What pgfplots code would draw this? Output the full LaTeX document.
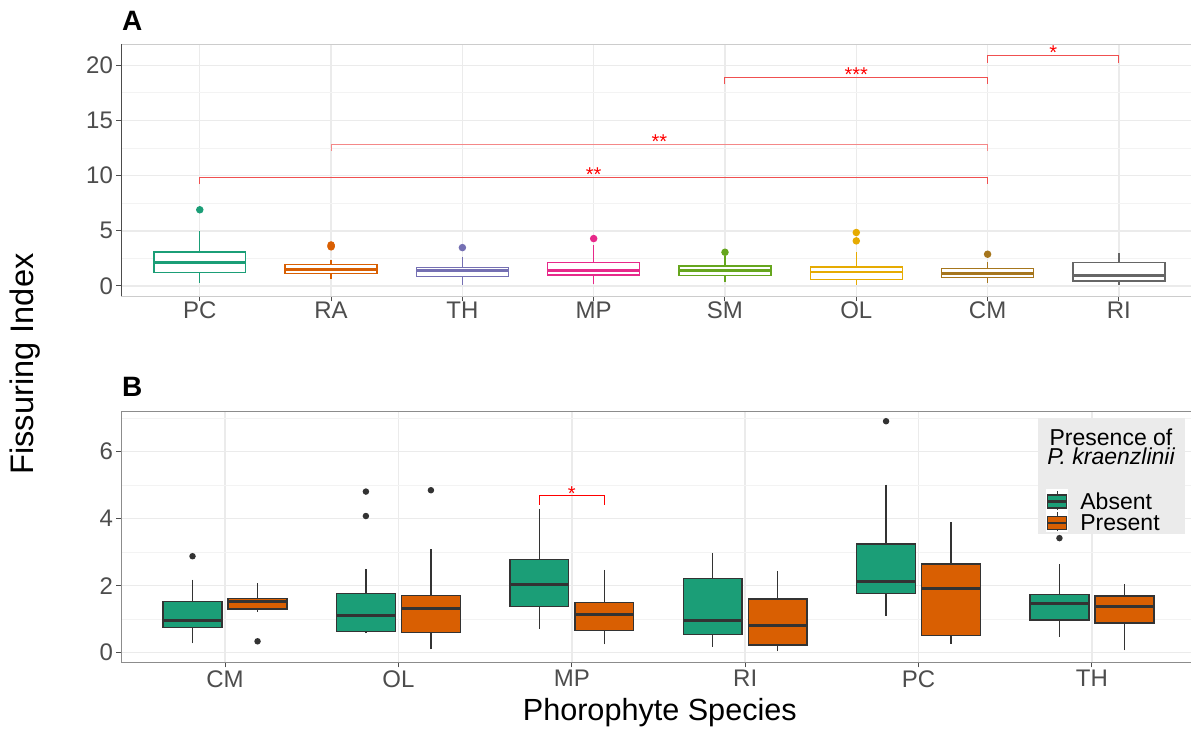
\documentclass[border=0pt]{standalone}
\usepackage{pgfplots}
\pgfplotsset{compat=1.18}
\usepgfplotslibrary{statistics}
\usepackage{fontspec}
\setmainfont{Liberation Sans}
\definecolor{dPC}{HTML}{1B9E77}
\definecolor{dRA}{HTML}{D95F02}
\definecolor{dTH}{HTML}{7570B3}
\definecolor{dMP}{HTML}{E7298A}
\definecolor{dSM}{HTML}{66A61E}
\definecolor{dOL}{HTML}{E6AB02}
\definecolor{dCM}{HTML}{A6761D}
\definecolor{dRI}{HTML}{666666}
\definecolor{gridc}{HTML}{EBEBEB}
\definecolor{gridm}{HTML}{F3F3F3}
\definecolor{tickc}{HTML}{4D4D4D}
\definecolor{outl}{HTML}{333333}
\definecolor{legbg}{HTML}{EBEBEB}
\definecolor{brk}{HTML}{F05050}
\definecolor{brkl}{HTML}{F48888}
\pgfplotsset{
  boxplot/draw direction=y,
  Abox/.style={draw=#1, fill=white, line width=0.7pt, solid, mark=*, mark size=1.5pt,
    mark options={draw=#1, fill=#1, solid},
    boxplot/draw direction=y,
    boxplot/every median/.style={line width=1.4pt}},
  Bbox/.style={draw=outl, fill=#1, line width=0.7pt, solid, mark=*, mark size=1.25pt,
    mark options={draw=outl, fill=outl, solid},
    boxplot/draw direction=y,
    boxplot/every median/.style={line width=1.5pt}},
  common/.style={
    scale only axis,
    tick align=outside, major tick length=2.5pt, minor tick length=0pt,
    xtick pos=bottom, ytick pos=left,
    tick style={draw=tickc, line width=0.5pt},
    xmajorgrids, ymajorgrids, yminorgrids,
    major grid style={draw=gridc, line width=0.7pt},
    minor grid style={draw=gridm, line width=0.5pt},
    ticklabel style={font=\fontsize{12}{14}\selectfont, text=tickc},
    /pgf/number format/assume math mode=true,
    yticklabel style={anchor=east, inner sep=0pt, xshift=-1.35pt},
  },
}
\begin{document}
\begin{tikzpicture}[x=1pt,y=1pt]
\clip (0,0) rectangle (595.5,365);
\fill[white] (0,0) rectangle (595.5,365);
% ---------------- Panel A ----------------
\begin{axis}[common,
  at={(60.5pt,216.85pt)}, anchor=south west,
  width=538.35pt, height=126pt,
  xmin=0.4, xmax=8.6, ymin=-0.934, ymax=21.91,
  xtick={1,2,3,4,5,6,7,8}, xticklabels={PC,RA,TH,MP,SM,OL,CM,RI},
  ytick={0,5,10,15,20}, minor ytick={2.5,7.5,12.5,17.5},
  axis line style={draw=black!20},
  xticklabel style={anchor=north, inner sep=0pt, yshift=-0.2pt},
]
\addplot[Abox=dPC, boxplot prepared={draw position=1, lower whisker=0.30, lower quartile=1.21, median=2.12, upper quartile=3.09, upper whisker=5.0, box extend=0.7, whisker extend=0}]
  table[row sep=\\, y index=0] {y\\6.91\\};
\addplot[Abox=dRA, boxplot prepared={draw position=2, lower whisker=0.67, lower quartile=1.12, median=1.52, upper quartile=1.94, upper whisker=2.39, box extend=0.7, whisker extend=0}]
  table[row sep=\\, y index=0] {y\\3.72\\3.62\\3.55\\};
\addplot[Abox=dTH, boxplot prepared={draw position=3, lower whisker=0.06, lower quartile=0.88, median=1.42, upper quartile=1.70, upper whisker=2.67, box extend=0.7, whisker extend=0}]
  table[row sep=\\, y index=0] {y\\3.48\\};
\addplot[Abox=dMP, boxplot prepared={draw position=4, lower whisker=0.21, lower quartile=1.00, median=1.42, upper quartile=2.12, upper whisker=3.76, box extend=0.7, whisker extend=0}]
  table[row sep=\\, y index=0] {y\\4.30\\};
\addplot[Abox=dSM, boxplot prepared={draw position=5, lower whisker=0.39, lower quartile=0.97, median=1.42, upper quartile=1.82, upper whisker=2.73, box extend=0.7, whisker extend=0}]
  table[row sep=\\, y index=0] {y\\3.06\\};
\addplot[Abox=dOL, boxplot prepared={draw position=6, lower whisker=0.09, lower quartile=0.61, median=1.27, upper quartile=1.73, upper whisker=3.06, box extend=0.7, whisker extend=0}]
  table[row sep=\\, y index=0] {y\\4.85\\4.09\\};
\addplot[Abox=dCM, boxplot prepared={draw position=7, lower whisker=0.30, lower quartile=0.79, median=1.12, upper quartile=1.61, upper whisker=2.15, box extend=0.7, whisker extend=0}]
  table[row sep=\\, y index=0] {y\\2.88\\};
\addplot[Abox=dRI, boxplot prepared={draw position=8, lower whisker=0.06, lower quartile=0.45, median=0.94, upper quartile=2.15, upper whisker=3.0, box extend=0.7, whisker extend=0}]
  coordinates {};
% significance brackets
\addplot[draw=brk, line width=0.5pt, mark=none] coordinates {(1,9.24) (1,9.88) (7,9.88) (7,9.24)};
\addplot[draw=brkl, line width=0.5pt, mark=none] coordinates {(2,12.27) (2,12.87) (7,12.87) (7,12.27)};
\addplot[draw=brk, line width=0.5pt, mark=none] coordinates {(5,18.30) (5,18.94) (7,18.94) (7,18.30)};
\addplot[draw=brk, line width=0.5pt, mark=none] coordinates {(7,20.25) (7,20.92) (8,20.92) (8,20.25)};
\node[text=red, font=\fontsize{10}{12}\selectfont] at (axis cs:4,10.09) {**};
\node[text=red, font=\fontsize{10}{12}\selectfont] at (axis cs:4.5,13.08) {**};
\node[text=red, font=\fontsize{10}{12}\selectfont] at (axis cs:6,19.15) {***};
\node[text=red, font=\fontsize{10}{12}\selectfont] at (axis cs:7.5,21.13) {*};
\draw[draw=black!70, line width=0.5pt] (rel axis cs:0,0) -- (rel axis cs:0,1);
\end{axis}
% ---------------- Panel B ----------------
\begin{axis}[common,
  at={(60.5pt,33.85pt)}, anchor=south west,
  width=537.5pt, height=125.65pt,
  xmin=0.4, xmax=6.6, ymin=-0.287, ymax=7.215,
  xtick={1,2,3,4,5,6}, xticklabels={CM,OL,MP,RI,PC,TH},
  ytick={0,2,4,6}, minor ytick={1,3,5,7},
  axis line style={draw=black!45},
  xticklabel style={anchor=north, inner sep=0pt, yshift=-1.35pt},
]
% Absent
\addplot[Bbox=dPC, boxplot prepared={draw position=0.8125, lower whisker=0.28, lower quartile=0.76, median=0.95, upper quartile=1.53, upper whisker=2.18, box extend=0.34, whisker extend=0}]
  table[row sep=\\, y index=0] {y\\2.88\\};
\addplot[Bbox=dPC, boxplot prepared={draw position=1.8125, lower whisker=0.58, lower quartile=0.64, median=1.10, upper quartile=1.77, upper whisker=2.50, box extend=0.34, whisker extend=0}]
  table[row sep=\\, y index=0] {y\\4.81\\4.08\\};
\addplot[Bbox=dPC, boxplot prepared={draw position=2.8125, lower whisker=0.72, lower quartile=1.38, median=2.05, upper quartile=2.79, upper whisker=4.30, box extend=0.34, whisker extend=0}]
  coordinates {};
\addplot[Bbox=dPC, boxplot prepared={draw position=3.8125, lower whisker=0.17, lower quartile=0.55, median=0.97, upper quartile=2.21, upper whisker=2.98, box extend=0.34, whisker extend=0}]
  coordinates {};
\addplot[Bbox=dPC, boxplot prepared={draw position=4.8125, lower whisker=1.11, lower quartile=1.76, median=2.14, upper quartile=3.24, upper whisker=5.02, box extend=0.34, whisker extend=0}]
  table[row sep=\\, y index=0] {y\\6.91\\};
\addplot[Bbox=dPC, boxplot prepared={draw position=5.8125, lower whisker=0.48, lower quartile=0.98, median=1.47, upper quartile=1.74, upper whisker=2.64, box extend=0.34, whisker extend=0}]
  table[row sep=\\, y index=0] {y\\3.42\\};
% Present
\addplot[Bbox=dRA, boxplot prepared={draw position=1.1875, lower whisker=1.22, lower quartile=1.31, median=1.53, upper quartile=1.62, upper whisker=2.07, box extend=0.34, whisker extend=0}]
  table[row sep=\\, y index=0] {y\\0.34\\};
\addplot[Bbox=dRA, boxplot prepared={draw position=2.1875, lower whisker=0.10, lower quartile=0.61, median=1.32, upper quartile=1.71, upper whisker=3.10, box extend=0.34, whisker extend=0}]
  table[row sep=\\, y index=0] {y\\4.85\\};
\addplot[Bbox=dRA, boxplot prepared={draw position=3.1875, lower whisker=0.25, lower quartile=0.66, median=1.15, upper quartile=1.49, upper whisker=2.47, box extend=0.34, whisker extend=0}]
  coordinates {};
\addplot[Bbox=dRA, boxplot prepared={draw position=4.1875, lower whisker=0.04, lower quartile=0.23, median=0.81, upper quartile=1.60, upper whisker=2.44, box extend=0.34, whisker extend=0}]
  coordinates {};
\addplot[Bbox=dRA, boxplot prepared={draw position=5.1875, lower whisker=0.27, lower quartile=0.52, median=1.93, upper quartile=2.65, upper whisker=3.89, box extend=0.34, whisker extend=0}]
  coordinates {};
\addplot[Bbox=dRA, boxplot prepared={draw position=6.1875, lower whisker=0.07, lower quartile=0.89, median=1.38, upper quartile=1.69, upper whisker=2.05, box extend=0.34, whisker extend=0}]
  coordinates {};
\addplot[draw=red, line width=0.5pt, mark=none] coordinates {(2.8125,4.42) (2.8125,4.70) (3.1875,4.70) (3.1875,4.42)};
\node[text=red, font=\fontsize{10}{12}\selectfont] at (axis cs:3,4.76) {*};
\end{axis}
% ---------------- legend ----------------
\fill[legbg] (519.15,98.2) rectangle (592.3,155.85);
\node[anchor=base, font=\fontsize{11.5}{13}\selectfont, inner sep=0pt] at (555.5,142.5) {Presence of};
\node[anchor=base, font=\fontsize{11.5}{13}\selectfont\itshape, inner sep=0pt] at (555.5,132.5) {P. kraenzlinii};
\fill[white] (522.85,98.9) rectangle (534.15,120.5);
\draw[outl, line width=0.5pt] (528.5,110) -- (528.5,119.5);
\filldraw[fill=dPC, draw=outl, line width=0.6pt] (523.8,111) rectangle (533.2,117.5);
\draw[outl, line width=1.1pt] (523.8,114.25) -- (533.2,114.25);
\draw[outl, line width=0.5pt] (528.5,99.3) -- (528.5,108.8);
\filldraw[fill=dRA, draw=outl, line width=0.6pt] (523.8,100.3) rectangle (533.2,106.8);
\draw[outl, line width=1.1pt] (523.8,103.55) -- (533.2,103.55);
\node[anchor=base west, font=\fontsize{11.5}{13}\selectfont, inner sep=0pt] at (540,110.3) {Absent};
\node[anchor=base west, font=\fontsize{11.5}{13}\selectfont, inner sep=0pt] at (540,99.6) {Present};
% ---------------- titles and tags ----------------
\node[anchor=base west, font=\fontsize{14}{16}\selectfont\bfseries, inner sep=0pt] at (60.85,349.65) {A};
\node[anchor=base west, font=\fontsize{14}{16}\selectfont\bfseries, inner sep=0pt] at (60.85,167) {B};
\node[anchor=base, font=\fontsize{15.3}{18}\selectfont, inner sep=0pt] at (329.9,5) {Phorophyte Species};
\node[anchor=base, rotate=90, font=\fontsize{16.3}{19}\selectfont, inner sep=0pt] at (16.65,183) {Fissuring Index};
\end{tikzpicture}
\end{document}
